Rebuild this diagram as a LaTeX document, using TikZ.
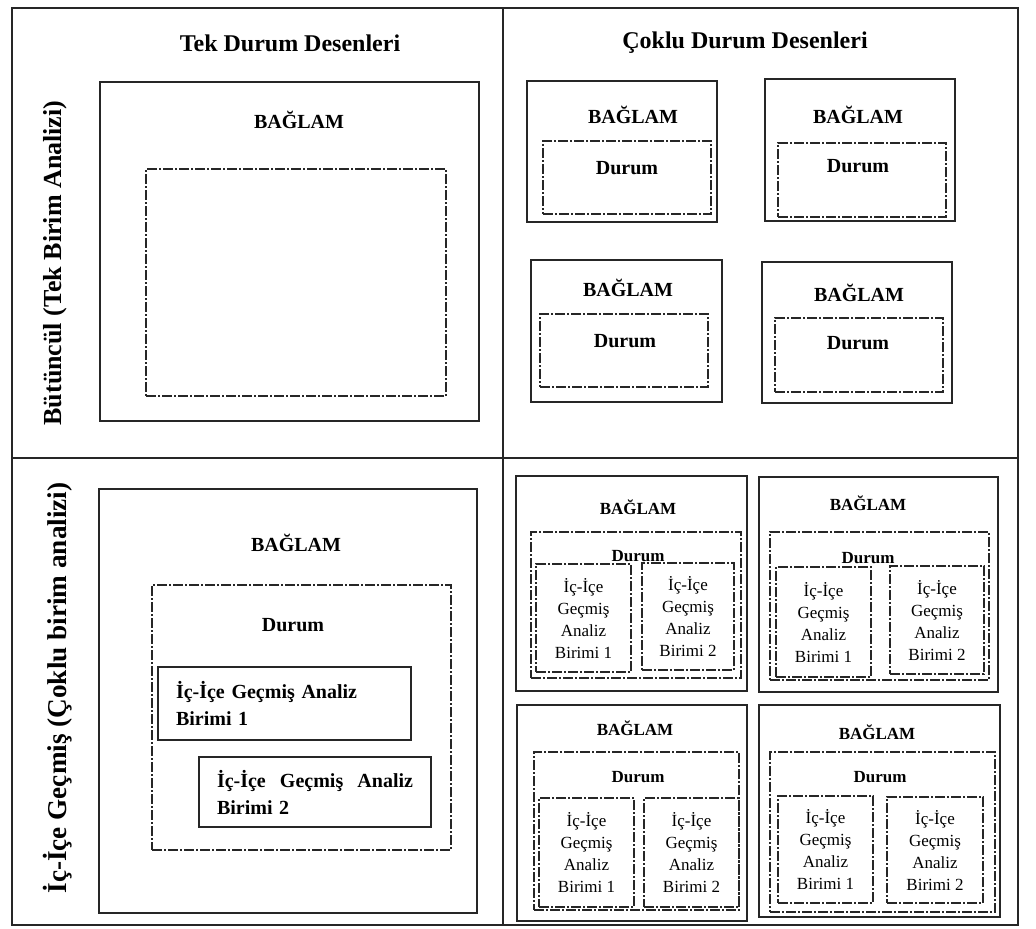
\documentclass[tikz,border=0pt]{standalone}
\usepackage{fontspec}
\setmainfont{Liberation Serif}

\begin{document}
\begin{tikzpicture}[
  x=1pt, y=-1pt,
  frame/.style={draw=black!85, line width=0.8pt},
  solidbox/.style={draw=black!85, line width=0.75pt, inner sep=0pt, outer sep=0pt},
  dashbox/.style={draw=black!85, line width=0.75pt, dash pattern=on 5pt off 1pt on 1pt off 1pt,
    inner sep=0pt, outer sep=0pt},
  wh/.style 2 args={minimum width=#1pt, minimum height=#2pt},
  head/.style={font=\bfseries\fontsize{12}{14}\selectfont},
  side/.style={font=\bfseries\fontsize{#1}{15}\selectfont, rotate=90},
  bigtag/.style={font=\bfseries\fontsize{10}{12}\selectfont},
  smalltag/.style={font=\bfseries\fontsize{8.5}{10}\selectfont},
  unitbold/.style={font=\bfseries\fontsize{10}{13.5}\selectfont, align=left, inner xsep=9pt},
  unittxt/.style={font=\fontsize{8.5}{11}\selectfont, align=center},
]

% Background and frame
\useasboundingbox (0,0) rectangle (518,464);
\fill[white] (0,0) rectangle (518,464);
\draw[frame] (6,4) rectangle (509,462.5);
\draw[frame] (251.5,4) -- (251.5,462.5);
\draw[frame] (6,229) -- (509,229);

% =============================================
% Column headers and row labels
% =============================================
\node[head] (tektitle) at (145,21.5) {Tek Durum Desenleri};
\node[head] (coktitle) at (372.5,21.5) {Çoklu Durum Desenleri};

\node[side=13] (butlbl) at (27.5,131.5) {Bütüncül (Tek Birim Analizi)};
\node[side=13.6] (iclbl) at (29,344) {İç-İçe Geçmiş (Çoklu birim analizi)};

% =============================================
% Top left: single case, holistic
% =============================================
\node[solidbox, wh={189.5}{169.5}] (bag0) at (144.75,125.75) {};
\node[bigtag] (bag0t) at (149.5,60) {BAĞLAM};
\node[dashbox, wh={150}{113.5}] (dur0) at (148,141.25) {};

% =============================================
% Top right: multiple cases, holistic
% =============================================
\node[solidbox, wh={95}{70.5}] (bag1) at (311,75.75) {};
\node[bigtag] (bag1t) at (316.5,57.5) {BAĞLAM};
\node[dashbox, wh={84}{36.5}] (dur1) at (313.5,88.75) {};
\node[bigtag] (dur1t) at (313.5,84) {Durum};

\node[solidbox, wh={95}{71}] (bag2) at (430,75) {};
\node[bigtag] (bag2t) at (429,57.5) {BAĞLAM};
\node[dashbox, wh={84}{37}] (dur2) at (431,90) {};
\node[bigtag] (dur2t) at (429,83) {Durum};

\node[solidbox, wh={95.5}{71}] (bag3) at (313.25,165.5) {};
\node[bigtag] (bag3t) at (314,144) {BAĞLAM};
\node[dashbox, wh={84}{36.5}] (dur3) at (312,175.25) {};
\node[bigtag] (dur3t) at (312.5,170.5) {Durum};

\node[solidbox, wh={95}{70.5}] (bag4) at (428.5,166.25) {};
\node[bigtag] (bag4t) at (429.5,146.5) {BAĞLAM};
\node[dashbox, wh={84}{37}] (dur4) at (429.5,177.5) {};
\node[bigtag] (dur4t) at (429,171.5) {Durum};

% =============================================
% Bottom left: single case, embedded
% =============================================
\node[solidbox, wh={189}{212}] (bagn) at (144,350.5) {};
\node[bigtag] (bagnt) at (148,271.5) {BAĞLAM};
\node[dashbox, wh={149.5}{132.5}] (durn) at (150.75,358.75) {};
\node[bigtag] (durnt) at (146.5,312.5) {Durum};
\node[solidbox, wh={126.5}{36.5}, unitbold, text width=108.5pt] (unitn1) at (142.25,351.75)
  {İç-İçe Geçmiş Analiz\\Birimi 1};
\node[solidbox, wh={116}{35}, unitbold, text width=98pt] (unitn2) at (157.5,396)
  {İç-İçe\hfill Geçmiş\hfill Analiz\\Birimi 2};

% =============================================
% Bottom right: multiple cases, embedded
% =============================================
\node[solidbox, wh={115.5}{107.5}] (bag5) at (315.75,291.75) {};
\node[smalltag] (bag5t) at (319,253.5) {BAĞLAM};
\node[dashbox, wh={105}{73}] (dur5) at (318,302.5) {};
\node[smalltag] (dur5t) at (319,278) {Durum};
\node[dashbox, wh={47.5}{54}, unittxt] (u5a) at (291.75,309) {İç-İçe\\Geçmiş\\Analiz\\Birimi 1};
\node[dashbox, wh={46}{53.5}, unittxt] (u5b) at (344,308.25) {İç-İçe\\Geçmiş\\Analiz\\Birimi 2};

\node[solidbox, wh={119.5}{107.5}] (bag6) at (439.25,292.25) {};
\node[smalltag] (bag6t) at (434,251.5) {BAĞLAM};
\node[dashbox, wh={109.5}{74}] (dur6) at (439.75,303) {};
\node[smalltag] (dur6t) at (434,279) {Durum};
\node[dashbox, wh={47.5}{55}, unittxt] (u6a) at (411.75,311) {İç-İçe\\Geçmiş\\Analiz\\Birimi 1};
\node[dashbox, wh={47}{54}, unittxt] (u6b) at (468.5,310) {İç-İçe\\Geçmiş\\Analiz\\Birimi 2};

\node[solidbox, wh={115}{108}] (bag7) at (316,406.5) {};
\node[smalltag] (bag7t) at (317.5,364) {BAĞLAM};
\node[dashbox, wh={102.5}{79}] (dur7) at (318.25,415.5) {};
\node[smalltag] (dur7t) at (319,388.5) {Durum};
\node[dashbox, wh={47.5}{54.5}, unittxt] (u7a) at (293.25,426.25) {İç-İçe\\Geçmiş\\Analiz\\Birimi 1};
\node[dashbox, wh={47.5}{54.5}, unittxt] (u7b) at (345.75,426.25) {İç-İçe\\Geçmiş\\Analiz\\Birimi 2};

\node[solidbox, wh={120.5}{106}] (bag8) at (439.75,405.5) {};
\node[smalltag] (bag8t) at (438.5,366) {BAĞLAM};
\node[dashbox, wh={112.5}{80}] (dur8) at (441.25,416) {};
\node[smalltag] (dur8t) at (440,388.5) {Durum};
\node[dashbox, wh={47.5}{53.5}, unittxt] (u8a) at (412.75,424.75) {İç-İçe\\Geçmiş\\Analiz\\Birimi 1};
\node[dashbox, wh={48}{53}, unittxt] (u8b) at (467.5,425) {İç-İçe\\Geçmiş\\Analiz\\Birimi 2};

\end{tikzpicture}
\end{document}
